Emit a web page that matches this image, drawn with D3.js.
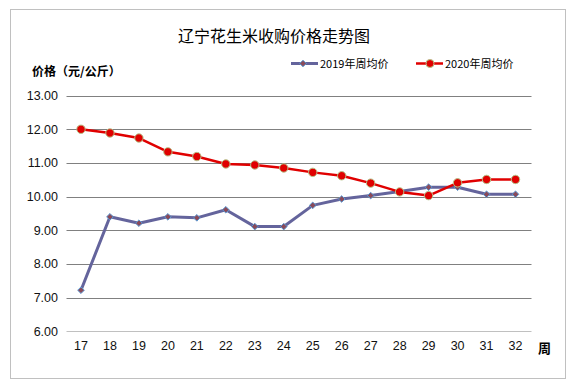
<!DOCTYPE html>
<html lang="zh">
<head>
    <meta charset="UTF-8">
    <title>辽宁花生米收购价格走势图</title>
    <style>
        body {
            margin: 0;
            background: #fff;
            font-family: "Noto Sans CJK SC", "DejaVu Sans", sans-serif;
        }
    </style>
    <script src="https://d3js.org/d3.v7.min.js"></script>
</head>
<body>

<script>

    // 周次
    let weeks = ["17", "18", "19", "20", "21", "22", "23", "24", "25", "26", "27", "28", "29", "30", "31", "32"]
    // 2019年周均价
    let price2019 = [7.22, 9.40, 9.21, 9.40, 9.37, 9.61, 9.11, 9.11, 9.74, 9.93, 10.03, 10.15, 10.28, 10.28, 10.07, 10.07]
    // 2020年周均价
    let price2020 = [12.00, 11.89, 11.74, 11.33, 11.19, 10.97, 10.94, 10.85, 10.72, 10.62, 10.40, 10.14, 10.03, 10.41, 10.51, 10.51]
    let yTicks = [6, 7, 8, 9, 10, 11, 12, 13]
    let seriesNames = ["2019年周均价", "2020年周均价"]

    let width = 578;
    let height = 385;
    let color2019 = "#64649c"
    let color2020 = "#e00000"
    let gridColor = "#808080"
    let labelFont = "\"Liberation Sans\", sans-serif"

    let svg = d3.select("body").append("svg")
        .attr("width", width)
        .attr("height", height)

    // outer frame
    svg.append("rect")
        .attr("x", 10.5).attr("y", 9.5)
        .attr("width", 555).attr("height", 369)
        .attr("fill", "#fff")
        .attr("stroke", "#c0c0c0")
        .attr("stroke-width", 1)

    let x = d3.scaleBand()
        .domain(weeks)
        .range([66.5, 530]);

    let y = d3.scaleLinear()
        .domain([6, 13])
        .range([331.3, 95.6]);

    let cx = function (d, i) { return x(weeks[i]) + x.bandwidth() / 2 }

    // gridlines
    svg.append("g")
        .selectAll("line")
        .data(yTicks)
        .enter()
        .append("line")
        .attr("x1", 66.5)
        .attr("x2", 531.5)
        .attr("y1", d => Math.round(y(d)) + 0.5)
        .attr("y2", d => Math.round(y(d)) + 0.5)
        .attr("stroke", d => d === 6 ? "#c0c0c0" : gridColor)
        .attr("stroke-width", 1)

    // y axis labels
    let yAxis = d3.axisLeft(y).tickValues(yTicks).tickFormat(d3.format(".2f")).tickSize(0).tickPadding(8)
    let gy = svg.append("g").attr("transform", "translate(66,0)").call(yAxis)
    gy.select(".domain").remove()
    gy.selectAll("text").attr("font-size", "12.5px").attr("font-family", labelFont).attr("fill", "#111")

    // x axis labels
    let xAxis = d3.axisBottom(x).tickSize(0).tickPadding(10)
    let gx = svg.append("g").attr("transform", "translate(0,331)").call(xAxis)
    gx.select(".domain").remove()
    gx.selectAll("text").attr("font-size", "12.5px").attr("font-family", labelFont).attr("fill", "#111")

    let line = d3.line()
        .x(cx)
        .y(d => y(d))

    // 2019 series
    svg.append("path")
        .datum(price2019)
        .attr("d", line)
        .attr("fill", "none")
        .attr("stroke", color2019)
        .attr("stroke-width", 3)
        .attr("stroke-linejoin", "round")

    let diamond = d3.symbol().type(d3.symbolDiamond2).size(28)

    svg.append("g")
        .selectAll("path")
        .data(price2019)
        .enter()
        .append("path")
        .attr("d", diamond)
        .attr("transform", (d, i) => "translate(" + cx(d, i) + "," + y(d) + ")")
        .attr("fill", "#8a4a5a")
        .attr("stroke", "#5b9bd5")
        .attr("stroke-width", 1)

    // 2020 series
    svg.append("path")
        .datum(price2020)
        .attr("d", line)
        .attr("fill", "none")
        .attr("stroke", color2020)
        .attr("stroke-width", 2.5)
        .attr("stroke-linejoin", "round")

    svg.append("g")
        .selectAll("circle")
        .data(price2020)
        .enter()
        .append("circle")
        .attr("cx", cx)
        .attr("cy", d => y(d))
        .attr("r", 4.2)
        .attr("fill", color2020)
        .attr("stroke", "#b5c48a")
        .attr("stroke-width", 1)

    // title
    svg.append("text")
        .attr("x", 274).attr("y", 42)
        .attr("text-anchor", "middle")
        .attr("font-size", "16px")
        .attr("fill", "#000")
        .text("辽宁花生米收购价格走势图")

    // axis titles
    svg.append("text")
        .attr("x", 32).attr("y", 76)
        .attr("font-size", "12px")
        .attr("font-weight", "bold")
        .attr("fill", "#000")
        .text("价格（元/公斤）")

    svg.append("text")
        .attr("x", 538).attr("y", 353)
        .attr("font-size", "13px")
        .attr("font-weight", "bold")
        .attr("fill", "#000")
        .text("周")

    // legend
    let legendX = [291, 416]
    let legend = svg.append("g")
        .selectAll("g")
        .data(seriesNames)
        .enter()
        .append("g")
        .attr("transform", (d, i) => "translate(" + legendX[i] + ",63.5)")

    legend.append("line")
        .attr("x1", 0).attr("x2", 27)
        .attr("stroke", (d, i) => i === 0 ? color2019 : color2020)
        .attr("stroke-width", (d, i) => i === 0 ? 3 : 2.5)

    legend.filter((d, i) => i === 0).append("path")
        .attr("d", diamond)
        .attr("transform", "translate(12,0)")
        .attr("fill", "#8a4a5a")
        .attr("stroke", "#5b9bd5")

    legend.filter((d, i) => i === 1).append("circle")
        .attr("cx", 14).attr("r", 4)
        .attr("fill", color2020)
        .attr("stroke", "#b5c48a")

    legend.append("text")
        .attr("x", 29).attr("y", 4)
        .attr("font-size", "11px")
        .attr("fill", "#000")
        .text(d => d)

</script>

</body>
</html>
